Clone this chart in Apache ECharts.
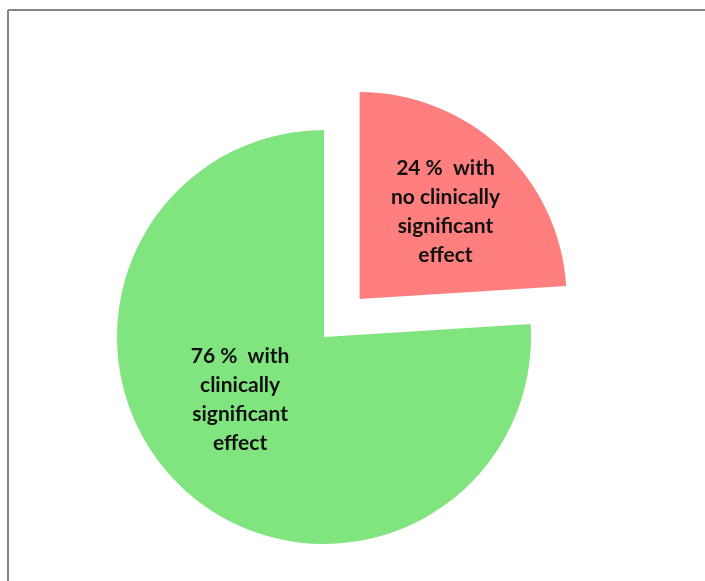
<!DOCTYPE html>
<html>
<head>
<meta charset="utf-8">
<script src="https://cdn.jsdelivr.net/npm/echarts@6/dist/echarts.min.js"></script>
<style>
  html, body { margin: 0; padding: 0; background: #fff; }
  #main { width: 705px; height: 581px; }
</style>
</head>
<body>
<div id="main"></div>
<script>
// slice data, clockwise from 12 o'clock
var names = ['no effect', 'effect'];
var values = [24, 76];
var labels = ['24 %  with\nno clinically\nsignificant\neffect', '76 %  with\nclinically\nsignificant\neffect'];
var colors = ['#ff7f7f', '#80e57f'];
// nudge of each label from the default 'inside' spot
var labelShift = [[13, -10], [-11, -15]];

var myChart = echarts.init(document.getElementById('main'));

var data = [];
for (var i = 0; i < values.length; i++) {
    data.push({
        name: names[i],
        value: values[i],
        selected: i === 0,
        itemStyle: { color: colors[i] },
        label: { formatter: labels[i] }
    });
}

var option = {
    animation: false,
    backgroundColor: '#fff',
    graphic: [
        { type: 'line', shape: { x1: 8, y1: 10, x2: 705, y2: 10 }, style: { stroke: '#868686', lineWidth: 2 } },
        { type: 'line', shape: { x1: 8, y1: 10, x2: 8, y2: 581 }, style: { stroke: '#868686', lineWidth: 2 } }
    ],
    series: [{
        type: 'pie',
        center: [324, 337],
        radius: 207,
        startAngle: 90,
        clockwise: true,
        selectedMode: 'single',
        selectedOffset: 52,
        silent: true,
        label: {
            position: 'inside',
            color: '#111',
            fontFamily: 'Lato',
            fontWeight: 'bold',
            fontSize: 21,
            lineHeight: 29,
            align: 'center'
        },
        labelLayout: function (params) {
            var s = labelShift[params.dataIndex];
            return { dx: s[0], dy: s[1] };
        },
        labelLine: { show: false },
        itemStyle: { borderWidth: 0 },
        data: data
    }]
};

myChart.setOption(option);
</script>
</body>
</html>
